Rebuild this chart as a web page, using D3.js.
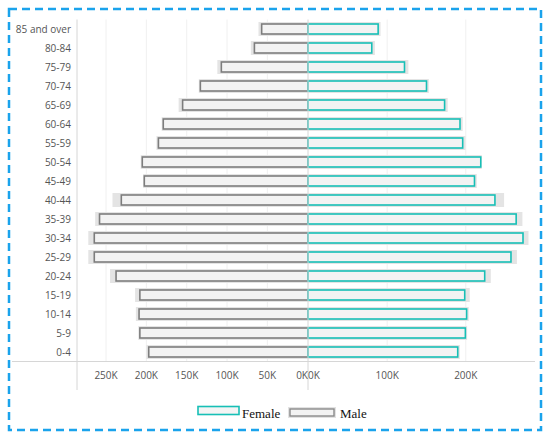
<!DOCTYPE html>
<html>
<head>
<meta charset="utf-8">
<script src="https://cdn.jsdelivr.net/npm/d3@7"></script>
<style>
  body { margin: 0; background: #fff; }
  svg { display: block; }
</style>
</head>
<body>
<svg id="svgRoot" width="550" height="439"></svg>
<script>
// age groups, top to bottom
const ageGroups = ["85 and over", "80-84", "75-79", "70-74", "65-69", "60-64", "55-59", "50-54", "45-49",
  "40-44", "35-39", "30-34", "25-29", "20-24", "15-19", "10-14", "5-9", "0-4"]

// values in thousands
const maleValues = [58, 67, 108, 134, 156, 180, 186, 206, 203.5, 232, 259, 265.5, 265.5, 238.5, 209, 210, 209, 198]
const maleBack = [61, 70.5, 112, 135, 160, 181, 187.5, 207, 204, 242, 263.5, 272, 272, 245, 214, 213, 210, 200]
const femaleValues = [89.5, 81.4, 123, 151, 174, 193.6, 197, 220, 212, 238, 265, 273.7, 258.4, 225, 199.6, 202, 200.4, 190.7]
const femaleBack = [91.6, 84.4, 127, 153, 177, 196, 199.6, 220.3, 214, 248.7, 272, 279.7, 265, 231.8, 205, 203.8, 201.7, 192.4]

const leftTicks = [250, 200, 150, 100, 50, 0]
const rightTicks = [0, 100, 200]
const legendItems = ["Female", "Male"]

let svg = d3.select("#svgRoot")

const plotTop = 19.5, plotBottom = 361.5
const axisLeftX = 77, mid = 308, rightEnd = 535
const tickFont = "'Open Sans', sans-serif"

let scale_y = d3.scaleBand().domain(ageGroups).range([plotTop, plotBottom])
let scale_left = d3.scaleLinear().domain([0, 286]).range([mid - 0.3, axisLeftX])
let scale_right = d3.scaleLinear().domain([0, 288]).range([mid + 0.5, rightEnd])

// dashed frame
svg.append("rect")
  .attr("x", 9).attr("y", 9).attr("width", 532).attr("height", 421)
  .attr("fill", "none").attr("stroke", "#1aa3ec").attr("stroke-width", 2.5)
  .attr("stroke-dasharray", "8,5")

// gridlines
let g_grid = svg.append("g")
g_grid.selectAll(".gl").data(leftTicks.filter(d => d > 0)).enter().append("line")
  .attr("x1", d => scale_left(d)).attr("x2", d => scale_left(d))
  .attr("y1", plotTop).attr("y2", plotBottom)
  .attr("stroke", "#f0f0f0").attr("stroke-width", 1)
g_grid.selectAll(".gr").data(rightTicks.filter(d => d > 0)).enter().append("line")
  .attr("x1", d => scale_right(d)).attr("x2", d => scale_right(d))
  .attr("y1", plotTop).attr("y2", plotBottom)
  .attr("stroke", "#f0f0f0").attr("stroke-width", 1)

const bgH = 14, fgH = 10

function drawSide(values, back, scale, stroke, isLeft) {
  let g = svg.append("g")
  g.selectAll(".bg").data(back).enter().append("rect")
    .attr("x", (d) => isLeft ? scale(d) : mid)
    .attr("width", (d) => Math.abs(scale(d) - mid))
    .attr("y", (d, i) => scale_y(ageGroups[i]) + scale_y.bandwidth() / 2 - bgH / 2)
    .attr("height", bgH)
    .attr("fill", "#e4e4e4")
  g.selectAll(".fg").data(values).enter().append("rect")
    .attr("x", (d) => isLeft ? scale(d) + 0.75 : mid)
    .attr("width", (d) => Math.abs(scale(d) - mid) - 0.75)
    .attr("y", (d, i) => scale_y(ageGroups[i]) + scale_y.bandwidth() / 2 - fgH / 2)
    .attr("height", fgH)
    .attr("fill", "#f3f3f3")
    .attr("stroke", stroke)
    .attr("stroke-width", 1.6)
}

drawSide(maleValues, maleBack, scale_left, "#7d7d7d", true)
drawSide(femaleValues, femaleBack, scale_right, "#17bfb6", false)

// axis lines
svg.append("line").attr("x1", 12).attr("x2", rightEnd).attr("y1", plotBottom).attr("y2", plotBottom)
  .attr("stroke", "#d6d6d6").attr("stroke-width", 1)
svg.append("line").attr("x1", axisLeftX).attr("x2", axisLeftX).attr("y1", plotTop).attr("y2", 390)
  .attr("stroke", "#d6d6d6").attr("stroke-width", 1)
svg.append("line").attr("x1", mid).attr("x2", mid).attr("y1", plotTop).attr("y2", 390)
  .attr("stroke", "#d6d6d6").attr("stroke-width", 1)

// category labels
svg.append("g").selectAll("text").data(ageGroups).enter().append("text")
  .attr("x", 71)
  .attr("y", d => scale_y(d) + scale_y.bandwidth() / 2)
  .attr("dy", "0.35em")
  .attr("text-anchor", "end")
  .attr("font-family", tickFont).attr("font-size", "10px").attr("fill", "#555")
  .text(d => d)

// tick labels
svg.append("g").selectAll("text").data(leftTicks).enter().append("text")
  .attr("x", d => d === 0 ? mid : scale_left(d))
  .attr("y", 379)
  .attr("text-anchor", d => d === 0 ? "end" : "middle")
  .attr("font-family", tickFont).attr("font-size", "10px").attr("fill", "#555")
  .text(d => d + "K")
svg.append("g").selectAll("text").data(rightTicks).enter().append("text")
  .attr("x", d => d === 0 ? mid : scale_right(d))
  .attr("y", 379)
  .attr("text-anchor", d => d === 0 ? "start" : "middle")
  .attr("font-family", tickFont).attr("font-size", "10px").attr("fill", "#555")
  .text(d => d + "K")

// legend
let g_legend = svg.append("g")
g_legend.append("rect").attr("x", 198).attr("y", 406.5).attr("width", 41).attr("height", 8)
  .attr("fill", "#f4f4f4").attr("stroke", "#17bfb6").attr("stroke-width", 1.6)
g_legend.append("text").attr("x", 242).attr("y", 418)
  .attr("font-family", "'Liberation Serif', serif").attr("font-size", "13px").attr("fill", "#111")
  .text(legendItems[0])
g_legend.append("rect").attr("x", 288).attr("y", 407).attr("width", 48).attr("height", 11)
  .attr("fill", "#e2e2e2")
g_legend.append("rect").attr("x", 290).attr("y", 409).attr("width", 44).attr("height", 7)
  .attr("fill", "#f3f3f3").attr("stroke", "#8a8a8a").attr("stroke-width", 1.4)
g_legend.append("text").attr("x", 340).attr("y", 418)
  .attr("font-family", "'Liberation Serif', serif").attr("font-size", "13px").attr("fill", "#111")
  .text(legendItems[1])
</script>
</body>
</html>
